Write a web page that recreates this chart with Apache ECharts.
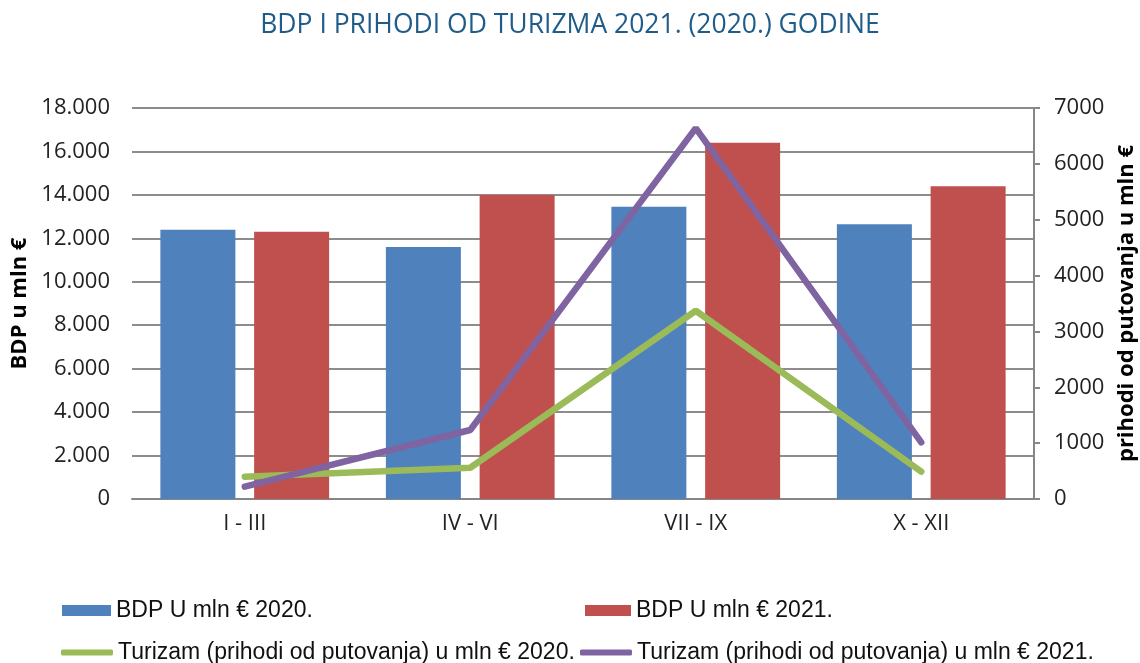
<!DOCTYPE html>
<html>
<head>
<meta charset="utf-8">
<script src="https://cdn.jsdelivr.net/npm/echarts@6/dist/echarts.min.js"></script>
<style>
  html, body { margin: 0; padding: 0; background: #fff; }
  #chart { width: 1140px; height: 663px; }
</style>
</head>
<body>
<div id="chart"></div>
<script>
// data
const quarters = ["I - III", "IV - VI", "VII - IX", "X - XII"];
const bdp2020 = [12400, 11600, 13450, 12650];
const bdp2021 = [12300, 14000, 16400, 14400];
const turizam2020 = [400, 560, 3370, 490];
const turizam2021 = [220, 1235, 6640, 1015];

const names = [
    "BDP U mln € 2020.",
    "BDP U mln € 2021.",
    "Turizam (prihodi od putovanja) u mln € 2020.",
    "Turizam (prihodi od putovanja) u mln € 2021."
];
const colors = ["#4F81BD", "#C0504D", "#9BBB59", "#8064A2"];

const font = "Open Sans";
const legendText = { fontFamily: "Liberation Sans", fontSize: 23, color: "#111" };

// dot as thousands separator
function fmt(v) {
    return String(v).replace(/\B(?=(\d{3})+(?!\d))/g, ".");
}

const chart = echarts.init(document.querySelector("#chart"));

chart.setOption({
    animation: false,
    title: {
        text: "BDP I PRIHODI OD TURIZMA 2021. (2020.) GODINE",
        left: "center",
        top: 7,
        textStyle: { fontFamily: font, fontSize: 26.5, fontWeight: "normal", color: "#1F5C8A" }
    },
    legend: [
        { data: [names[0]], left: 57, top: 594, itemWidth: 49, itemHeight: 11, icon: "rect", textStyle: legendText },
        { data: [names[1]], left: 580, top: 594, itemWidth: 46, itemHeight: 11, icon: "rect", textStyle: legendText },
        { data: [names[2]], left: 56, top: 636, itemWidth: 52, itemHeight: 6, icon: "roundRect", textStyle: legendText },
        { data: [names[3]], left: 575, top: 636, itemWidth: 52, itemHeight: 6, icon: "roundRect", textStyle: legendText }
    ],
    grid: { left: 132, right: 106, top: 108, bottom: 164, containLabel: false, outerBoundsMode: "none" },
    xAxis: {
        type: "category",
        data: quarters,
        axisLine: { lineStyle: { color: "#868686", width: 2 } },
        axisTick: { show: false },
        axisLabel: { fontFamily: font, fontSize: 22, color: "#222", margin: 14 }
    },
    yAxis: [
        {
            type: "value",
            min: 0, max: 18000, interval: 2000,
            name: "BDP u mln €",
            nameLocation: "middle",
            nameGap: 98,
            nameTextStyle: { fontFamily: font, fontSize: 22, fontWeight: "bold", color: "#000" },
            axisLine: { show: false },
            axisTick: { show: false },
            axisLabel: { fontFamily: font, fontSize: 22, color: "#222", margin: 22, formatter: fmt },
            splitLine: { lineStyle: { color: "#8c8c8c", width: 2 } }
        },
        {
            type: "value",
            min: 0, max: 7000, interval: 1000,
            name: "prihodi od putovanja u mln €",
            nameLocation: "middle",
            nameGap: 82,
            nameRotate: 90,
            nameTextStyle: { fontFamily: font, fontSize: 22, fontWeight: "bold", color: "#000" },
            axisLine: { show: true, lineStyle: { color: "#868686", width: 2 } },
            axisTick: { show: true, length: 6, lineStyle: { color: "#868686", width: 2 } },
            axisLabel: { fontFamily: font, fontSize: 22, color: "#222", margin: 20, formatter: v => String(v) },
            splitLine: { show: false }
        }
    ],
    series: [
        { name: names[0], type: "bar", data: bdp2020, barWidth: 75, barGap: "25%", itemStyle: { color: colors[0] } },
        { name: names[1], type: "bar", data: bdp2021, barWidth: 75, itemStyle: { color: colors[1] } },
        {
            name: names[2], type: "line", yAxisIndex: 1, data: turizam2020,
            symbol: "none", lineStyle: { color: colors[2], width: 6.5, cap: "round" }, itemStyle: { color: colors[2] }
        },
        {
            name: names[3], type: "line", yAxisIndex: 1, data: turizam2021,
            symbol: "none", lineStyle: { color: colors[3], width: 6.5, cap: "round" }, itemStyle: { color: colors[3] }
        }
    ]
});
</script>
</body>
</html>
